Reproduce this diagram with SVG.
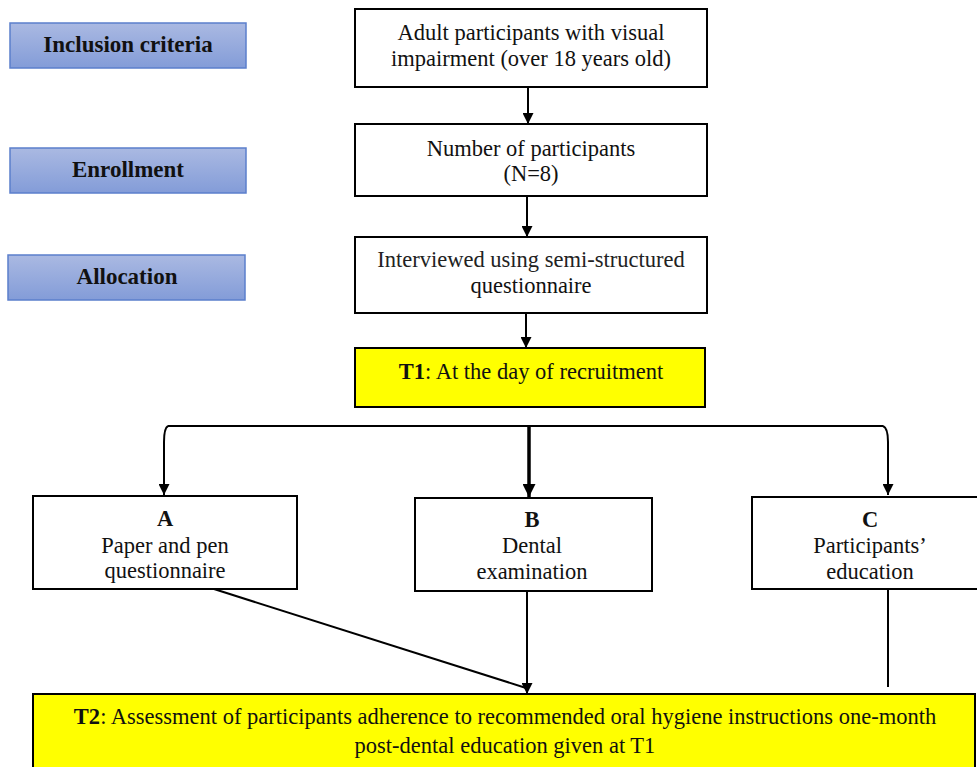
<svg xmlns="http://www.w3.org/2000/svg" width="977" height="767" viewBox="0 0 977 767">
<defs>
<linearGradient id="blue" x1="0" y1="0" x2="0" y2="1">
<stop offset="0" stop-color="#aab9e2"/>
<stop offset="1" stop-color="#839cd8"/>
</linearGradient>
<marker id="ah" markerWidth="11" markerHeight="11" refX="11" refY="5.5" orient="auto" markerUnits="userSpaceOnUse" viewBox="0 0 11 11">
<path d="M0,0 L11,5.5 L0,11 Z" fill="#000"/>
</marker>
<marker id="ah2" markerWidth="13" markerHeight="13" refX="13" refY="6.5" orient="auto" markerUnits="userSpaceOnUse" viewBox="0 0 13 13">
<path d="M0,0 L13,6.5 L0,13 Z" fill="#000"/>
</marker>
</defs>
<style>
.lab{fill:url(#blue);stroke:#5b7fcc;stroke-width:1.5}
.box{fill:#fff;stroke:#000;stroke-width:2}
.ybox{fill:#ffff00;stroke:#000;stroke-width:2}
.con{fill:none;stroke:#000;stroke-width:2}
</style>
<rect width="977" height="767" fill="#fff"/>
<g font-family="'Liberation Serif', 'Times New Roman', serif" font-size="22.5" fill="#111" text-anchor="middle">
<g id="inclusion"><rect class="lab" x="10" y="23" width="236" height="45"/><text font-weight="bold" font-size="23" x="128" y="52">Inclusion criteria</text></g>
<g id="enrollment"><rect class="lab" x="10" y="148" width="236" height="45"/><text font-weight="bold" font-size="23" x="128" y="177">Enrollment</text></g>
<g id="allocation"><rect class="lab" x="8" y="255" width="237" height="45"/><text font-weight="bold" font-size="23" x="127" y="284">Allocation</text></g>
<g id="adult"><rect class="box" x="355" y="9" width="352" height="78"/><text x="531" y="40">Adult participants with visual</text><text x="531" y="66">impairment (over 18 years old)</text></g>
<g id="number"><rect class="box" x="355" y="124" width="352" height="72"/><text x="531" y="156">Number of participants</text><text x="531" y="181">(N=8)</text></g>
<g id="interview"><rect class="box" x="355" y="237" width="352" height="76"/><text x="531" y="267" fill="#222">Interviewed using semi-structured</text><text x="531" y="293">questionnaire</text></g>
<g id="t1"><rect class="ybox" x="355" y="348" width="350" height="59"/><text x="531" y="379"><tspan font-weight="bold">T1</tspan>: At the day of recruitment</text></g>
<g id="a"><rect class="box" x="33" y="496" width="264" height="93"/><text font-weight="bold" x="165" y="526">A</text><text x="165" y="553">Paper and pen</text><text x="165" y="578">questionnaire</text></g>
<g id="b"><rect class="box" x="415" y="498" width="237" height="93"/><text font-weight="bold" x="532" y="527">B</text><text x="532" y="553">Dental</text><text x="532" y="579">examination</text></g>
<g id="c"><rect class="box" x="752" y="497" width="226" height="92"/><text font-weight="bold" x="870" y="527">C</text><text x="870" y="553">Participants’</text><text x="870" y="579">education</text></g>
<g id="t2"><rect class="ybox" x="33" y="694" width="942" height="80"/><text x="505" y="724"><tspan font-weight="bold">T2</tspan>: Assessment of participants adherence to recommended oral hygiene instructions one-month</text><text x="505" y="753">post-dental education given at T1</text></g>
</g>
<g id="connectors">
<line class="con" x1="528" y1="87" x2="528" y2="124" marker-end="url(#ah)"/>
<line class="con" x1="527" y1="196" x2="527" y2="237" marker-end="url(#ah)"/>
<line class="con" x1="526" y1="313" x2="526" y2="348" marker-end="url(#ah)"/>
<path class="con" d="M168,426 L883,426"/>
<path class="con" d="M168,426 Q164,428 164,442 L164,495" marker-end="url(#ah)"/>
<path class="con" d="M883,426 Q888,428 888,442 L888,495" marker-end="url(#ah)"/>
<line x1="529" y1="426" x2="529" y2="497" stroke="#000" stroke-width="3.5" marker-end="url(#ah2)"/>
<line class="con" x1="214" y1="589" x2="526" y2="688"/>
<line class="con" x1="527" y1="591" x2="527" y2="694" marker-end="url(#ah)"/>
<line class="con" x1="888" y1="589" x2="888" y2="687"/>
</g>
</svg>
